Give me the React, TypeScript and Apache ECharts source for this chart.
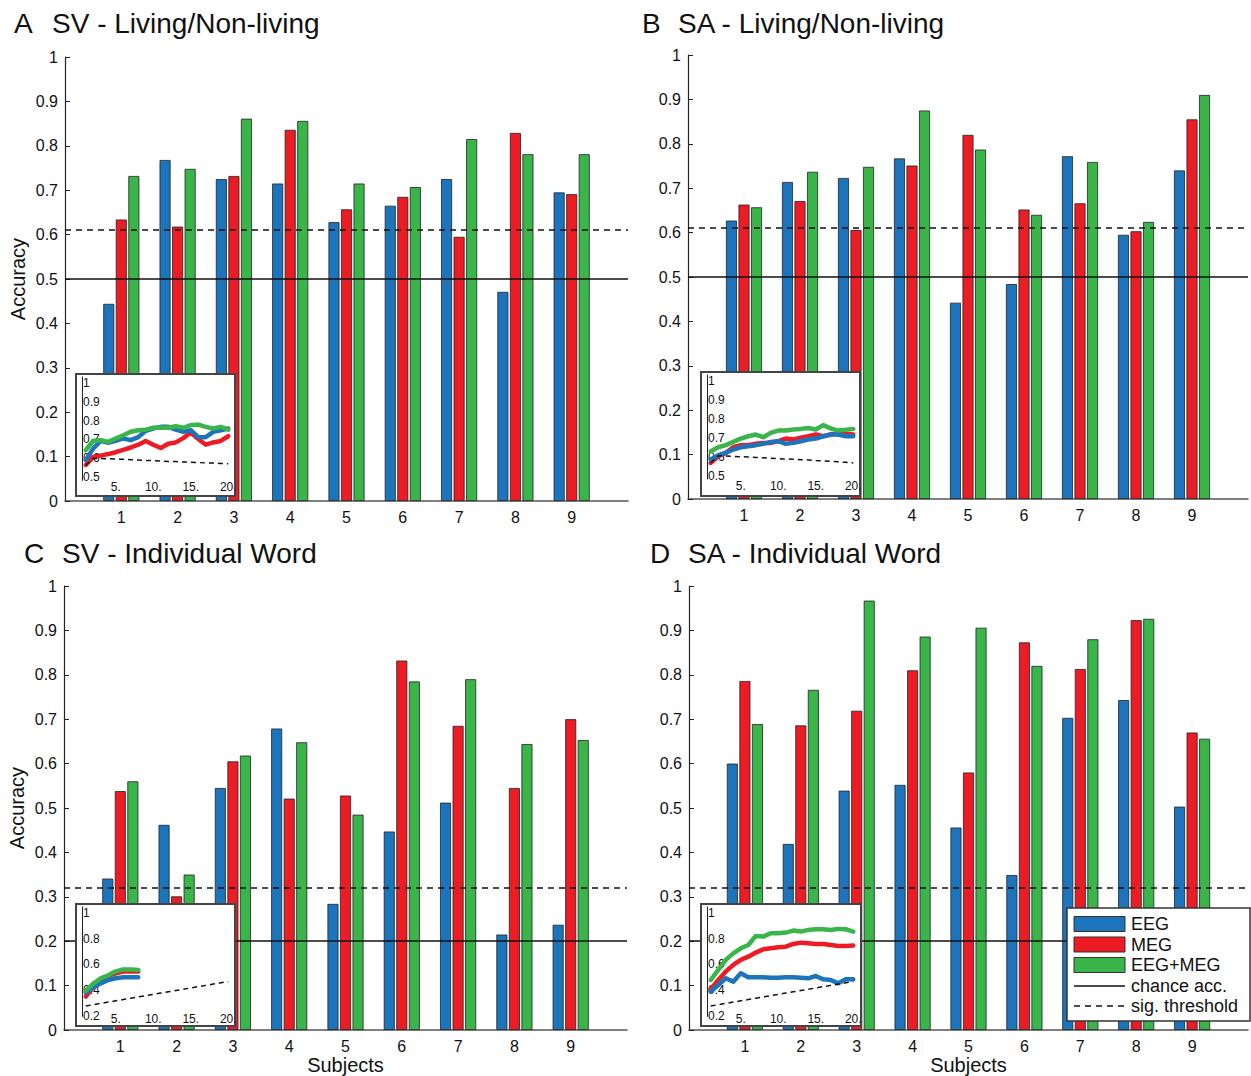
import React, { useEffect, useRef } from 'react';
import * as echarts from 'echarts';

const FONT = "'Liberation Sans', Arial, Helvetica, sans-serif";
const BLUE = '#1C75BC';
const RED = '#ED1C24';
const GREEN = '#39B54A';

const SUBJECTS = ['1', '2', '3', '4', '5', '6', '7', '8', '9'];
const X_CATS = ['', ...SUBJECTS, ''];
const INSET_X = ['1', '2', '3', '4', '5', '6', '7', '8', '9', '10', '11', '12', '13', '14', '15', '16', '17', '18', '19', '20'];

// Panel A: SV - Living/Non-living
const A_EEG = [0.444, 0.768, 0.725, 0.715, 0.628, 0.665, 0.725, 0.471, 0.695];
const A_MEG = [0.634, 0.618, 0.732, 0.836, 0.657, 0.685, 0.595, 0.829, 0.691];
const A_COMB = [0.732, 0.748, 0.861, 0.856, 0.715, 0.707, 0.815, 0.781, 0.781];
const A_CHANCE = 0.5;
const A_SIG = 0.612;
// Panel B: SA - Living/Non-living
const B_EEG = [0.627, 0.714, 0.723, 0.767, 0.442, 0.484, 0.772, 0.595, 0.74];
const B_MEG = [0.663, 0.671, 0.606, 0.751, 0.82, 0.652, 0.666, 0.603, 0.855];
const B_COMB = [0.657, 0.737, 0.748, 0.875, 0.787, 0.64, 0.759, 0.624, 0.91];
const B_CHANCE = 0.5;
const B_SIG = 0.608;
// Panel C: SV - Individual Word
const C_EEG = [0.341, 0.462, 0.545, 0.679, 0.284, 0.447, 0.512, 0.215, 0.237];
const C_MEG = [0.538, 0.301, 0.605, 0.521, 0.528, 0.832, 0.685, 0.545, 0.7];
const C_COMB = [0.56, 0.35, 0.618, 0.648, 0.485, 0.785, 0.79, 0.644, 0.653];
const C_CHANCE = 0.2;
const C_SIG = 0.321;
// Panel D: SA - Individual Word
const D_EEG = [0.6, 0.419, 0.539, 0.552, 0.456, 0.349, 0.703, 0.743, 0.503];
const D_MEG = [0.786, 0.686, 0.719, 0.81, 0.58, 0.873, 0.813, 0.923, 0.67];
const D_COMB = [0.689, 0.766, 0.967, 0.886, 0.906, 0.82, 0.88, 0.926, 0.656];
const D_CHANCE = 0.2;
const D_SIG = 0.321;

// Insets: accuracy vs. number of ... (1..20)
const A_IN_EEG = [0.558, 0.62, 0.66, 0.65, 0.66, 0.673, 0.664, 0.68, 0.714, 0.726, 0.735, 0.735, 0.72, 0.708, 0.717, 0.68, 0.68, 0.708, 0.717, 0.726];
const A_IN_MEG = [0.532, 0.575, 0.582, 0.59, 0.6, 0.612, 0.625, 0.64, 0.66, 0.64, 0.622, 0.645, 0.652, 0.675, 0.705, 0.67, 0.64, 0.652, 0.66, 0.685];
const A_IN_COMB = [0.611, 0.661, 0.664, 0.655, 0.673, 0.69, 0.709, 0.717, 0.72, 0.73, 0.73, 0.73, 0.738, 0.73, 0.744, 0.747, 0.735, 0.726, 0.735, 0.72];
const A_IN_SIG = [0.53, 0.567, 0.566, 0.565, 0.563, 0.562, 0.56, 0.558, 0.556, 0.555, 0.553, 0.551, 0.55, 0.548, 0.547, 0.545, 0.543, 0.542, 0.54, 0.538];

const B_IN_EEG = [0.553, 0.576, 0.588, 0.606, 0.618, 0.623, 0.629, 0.636, 0.646, 0.65, 0.636, 0.641, 0.65, 0.659, 0.664, 0.676, 0.685, 0.685, 0.676, 0.676];
const B_IN_MEG = [0.535, 0.571, 0.588, 0.618, 0.629, 0.629, 0.636, 0.641, 0.641, 0.65, 0.664, 0.659, 0.668, 0.676, 0.685, 0.676, 0.685, 0.689, 0.689, 0.685];
const B_IN_COMB = [0.597, 0.618, 0.629, 0.646, 0.664, 0.676, 0.685, 0.671, 0.694, 0.706, 0.706, 0.712, 0.715, 0.72, 0.712, 0.735, 0.717, 0.706, 0.71, 0.715];
const B_IN_SIG = [0.535, 0.573, 0.572, 0.57, 0.568, 0.566, 0.564, 0.562, 0.56, 0.558, 0.556, 0.554, 0.552, 0.55, 0.548, 0.546, 0.544, 0.541, 0.538, 0.535];

const C_IN_EEG = [0.335, 0.376, 0.407, 0.433, 0.446, 0.454, 0.454, 0.454];
const C_IN_MEG = [0.304, 0.38, 0.433, 0.464, 0.485, 0.498, 0.498, 0.498];
const C_IN_COMB = [0.35, 0.405, 0.445, 0.47, 0.5, 0.515, 0.515, 0.51];
const C_IN_SIG = [0.231, 0.241, 0.251, 0.261, 0.271, 0.281, 0.291, 0.301, 0.311, 0.321, 0.331, 0.341, 0.351, 0.361, 0.371, 0.381, 0.391, 0.401, 0.411, 0.42];

const D_IN_EEG = [0.342, 0.394, 0.446, 0.42, 0.485, 0.454, 0.454, 0.454, 0.451, 0.451, 0.454, 0.454, 0.451, 0.446, 0.464, 0.438, 0.433, 0.407, 0.438, 0.438];
const D_IN_MEG = [0.361, 0.433, 0.498, 0.55, 0.589, 0.614, 0.646, 0.671, 0.679, 0.687, 0.692, 0.713, 0.723, 0.718, 0.713, 0.713, 0.705, 0.697, 0.697, 0.7];
const D_IN_COMB = [0.433, 0.511, 0.589, 0.64, 0.679, 0.705, 0.775, 0.77, 0.796, 0.796, 0.801, 0.817, 0.809, 0.822, 0.827, 0.827, 0.822, 0.83, 0.827, 0.809];
const D_IN_SIG = [0.231, 0.241, 0.251, 0.261, 0.271, 0.281, 0.291, 0.301, 0.311, 0.321, 0.331, 0.341, 0.351, 0.361, 0.371, 0.381, 0.391, 0.401, 0.411, 0.42];

const TITLES = [
  { letter: 'A', text: 'SV - Living/Non-living', lx: 14, tx: 52, y: 23 },
  { letter: 'B', text: 'SA - Living/Non-living', lx: 642, tx: 678, y: 23 },
  { letter: 'C', text: 'SV - Individual Word', lx: 24, tx: 62, y: 553 },
  { letter: 'D', text: 'SA - Individual Word', lx: 650, tx: 688, y: 553 },
];

const LEGEND_LABELS = ['EEG', 'MEG', 'EEG+MEG', 'chance acc.', 'sig. threshold'];

const pad = (arr: number[]) => [null, ...arr, null];

export default function App() {
  const ref = useRef<HTMLDivElement>(null);
  useEffect(() => {
    document.body.style.margin = '0';
    const chart = echarts.init(ref.current!, null, { renderer: 'svg' });

    const panels = [
      { eeg: A_EEG, meg: A_MEG, comb: A_COMB, chance: A_CHANCE, sig: A_SIG, grid: { left: 65, top: 57, width: 563, height: 444 }, yName: 'Accuracy', xName: '' },
      { eeg: B_EEG, meg: B_MEG, comb: B_COMB, chance: B_CHANCE, sig: B_SIG, grid: { left: 688, top: 55, width: 563, height: 444 }, yName: '', xName: '' },
      { eeg: C_EEG, meg: C_MEG, comb: C_COMB, chance: C_CHANCE, sig: C_SIG, grid: { left: 64, top: 586, width: 563, height: 444 }, yName: 'Accuracy', xName: 'Subjects' },
      { eeg: D_EEG, meg: D_MEG, comb: D_COMB, chance: D_CHANCE, sig: D_SIG, grid: { left: 689, top: 586, width: 562, height: 444 }, yName: '', xName: 'Subjects' },
    ];
    const insets = [
      { eeg: A_IN_EEG, meg: A_IN_MEG, comb: A_IN_COMB, sig: A_IN_SIG, chance: 0.5, min: 0.45, step: 0.1, grid: { left: 82, top: 377, width: 150, height: 103.4 }, box: { x: 76, y: 374, width: 159, height: 122 }, labMargin: 1 },
      { eeg: B_IN_EEG, meg: B_IN_MEG, comb: B_IN_COMB, sig: B_IN_SIG, chance: 0.5, min: 0.45, step: 0.1, grid: { left: 707, top: 375, width: 150, height: 104 }, box: { x: 701, y: 372, width: 159, height: 124 }, labMargin: 1 },
      { eeg: C_IN_EEG, meg: C_IN_MEG, comb: C_IN_COMB, sig: C_IN_SIG, chance: 0.2, min: 0.15, step: 0.2, grid: { left: 82, top: 907, width: 150, height: 109.4 }, box: { x: 76, y: 904, width: 159, height: 122 }, labMargin: -3 },
      { eeg: D_IN_EEG, meg: D_IN_MEG, comb: D_IN_COMB, sig: D_IN_SIG, chance: 0.2, min: 0.15, step: 0.2, grid: { left: 707, top: 907, width: 150, height: 109.4 }, box: { x: 701, y: 904, width: 160, height: 122 }, labMargin: -3 },
    ];

    const grid: any[] = [];
    const xAxis: any[] = [];
    const yAxis: any[] = [];
    const series: any[] = [];

    panels.forEach((p, i) => {
      grid.push({ ...p.grid, containLabel: false });
      xAxis.push({
        type: 'category', gridIndex: i, data: X_CATS, boundaryGap: false,
        axisLine: { lineStyle: { color: '#555', width: 1.5 } },
        axisTick: { show: false },
        axisLabel: { interval: 0, fontSize: 16, color: '#111', margin: 8, fontFamily: FONT },
        name: p.xName, nameLocation: 'middle', nameGap: 24,
        nameTextStyle: { fontSize: 20, color: '#111', fontFamily: FONT },
      });
      yAxis.push({
        type: 'value', gridIndex: i, min: 0, max: 1, interval: 0.1,
        axisLine: { show: true, lineStyle: { color: '#222', width: 1.2 } },
        axisTick: { show: true, inside: true, length: 5, lineStyle: { color: '#222' } },
        splitLine: { show: false },
        axisLabel: { fontSize: 16, color: '#111', margin: 7, fontFamily: FONT },
        name: p.yName, nameLocation: 'middle', nameGap: 37,
        nameTextStyle: { fontSize: 20, color: '#111', fontFamily: FONT },
      });
      const bars: [string, number[], string][] = [['EEG', p.eeg, BLUE], ['MEG', p.meg, RED], ['EEG+MEG', p.comb, GREEN]];
      bars.forEach(([name, data, color]) => {
        series.push({
          type: 'bar', name, xAxisIndex: i, yAxisIndex: i, data: pad(data),
          barWidth: 11, barGap: '14%', z: 2,
          itemStyle: { color, borderColor: '#222', borderWidth: 0.8 },
        });
      });
      series.push({
        type: 'line', xAxisIndex: i, yAxisIndex: i, data: X_CATS.map(() => null), z: 3, silent: true,
        markLine: {
          silent: true, symbol: ['none', 'none'], label: { show: false },
          data: [
            { yAxis: p.chance, lineStyle: { type: 'solid', color: '#111', width: 1.5 } },
            { yAxis: p.sig, lineStyle: { type: [6, 5], color: '#111', width: 1.5 } },
          ],
        },
      });
    });

    insets.forEach((s, k) => {
      const gi = 4 + k;
      grid.push({ ...s.grid, containLabel: false });
      xAxis.push({
        type: 'category', gridIndex: gi, data: INSET_X, boundaryGap: true, z: 20,
        axisLine: { show: false }, axisTick: { show: false },
        axisLabel: {
          interval: (idx: number) => (idx + 1) % 5 === 0,
          formatter: (v: string) => v + '.', fontSize: 12, color: '#111', margin: s.labMargin, fontFamily: FONT,
        },
      });
      yAxis.push({
        type: 'value', gridIndex: gi, min: s.min, max: 1, interval: 0.05, z: 20,
        axisLine: { show: true, onZero: false, lineStyle: { color: '#222', width: 1 } },
        axisTick: { show: false }, splitLine: { show: false },
        axisLabel: {
          inside: true, margin: 1, verticalAlign: 'top', fontSize: 12, color: '#111', fontFamily: FONT,
          formatter: (v: number) => {
            const c = Math.round(v * 100);
            const st = Math.round(s.step * 100);
            if (c % st !== 0) return '';
            return c === 100 ? '1' : (c / 100).toFixed(1);
          },
        },
      });
      const lines: [number[], string][] = [[s.meg, RED], [s.eeg, BLUE], [s.comb, GREEN]];
      lines.forEach(([data, color]) => {
        series.push({
          type: 'line', xAxisIndex: gi, yAxisIndex: gi, data, z: 20, silent: true,
          showSymbol: false, symbol: 'none',
          lineStyle: { color, width: 4.5, cap: 'round', join: 'round' },
        });
      });
      series.push({
        type: 'line', xAxisIndex: gi, yAxisIndex: gi, data: s.sig, z: 21, silent: true,
        showSymbol: false, symbol: 'none',
        lineStyle: { color: '#111', width: 1.5, type: [5, 4] },
        markLine: {
          silent: true, symbol: ['none', 'none'], label: { show: false },
          data: [{ yAxis: s.chance, lineStyle: { type: 'solid', color: '#111', width: 1.5 } }],
        },
      });
    });

    const graphic: any[] = [];
    TITLES.forEach((t) => {
      graphic.push({ type: 'text', x: t.lx, y: t.y, style: { text: t.letter, fontSize: 28, fontFamily: FONT, fill: '#111', verticalAlign: 'middle' } });
      graphic.push({ type: 'text', x: t.tx, y: t.y, style: { text: t.text, fontSize: 28, fontFamily: FONT, fill: '#111', verticalAlign: 'middle' } });
    });
    insets.forEach((s) => {
      graphic.push({ type: 'rect', z: 10, shape: s.box, style: { fill: '#fff', stroke: '#444', lineWidth: 2 } });
    });
    // legend
    const lx = 1067, ly = 908;
    graphic.push({ type: 'rect', z: 30, shape: { x: lx, y: ly, width: 183, height: 113 }, style: { fill: '#fff', stroke: '#333', lineWidth: 1.5 } });
    const patchColors = [BLUE, RED, GREEN];
    const rowY = [924, 944.5, 965, 986, 1006];
    patchColors.forEach((c, i) => {
      graphic.push({ type: 'rect', z: 31, shape: { x: 1074, y: rowY[i] - 7.5, width: 51, height: 15 }, style: { fill: c, stroke: '#333', lineWidth: 1 } });
    });
    graphic.push({ type: 'line', z: 31, shape: { x1: 1074, y1: rowY[3], x2: 1125, y2: rowY[3] }, style: { stroke: '#111', lineWidth: 1.3 } });
    graphic.push({ type: 'line', z: 31, shape: { x1: 1074, y1: rowY[4], x2: 1125, y2: rowY[4] }, style: { stroke: '#111', lineWidth: 1.3, lineDash: [6, 5] } });
    LEGEND_LABELS.forEach((lab, i) => {
      graphic.push({ type: 'text', z: 31, x: 1131, y: rowY[i], style: { text: lab, fontSize: 18, fontFamily: FONT, fill: '#111', verticalAlign: 'middle' } });
    });

    chart.setOption({
      animation: false,
      backgroundColor: '#fff',
      textStyle: { fontFamily: FONT },
      grid, xAxis, yAxis, series, graphic,
    });
    return () => chart.dispose();
  }, []);
  return <div ref={ref} style={{ width: 1251, height: 1076 }} />;
}
